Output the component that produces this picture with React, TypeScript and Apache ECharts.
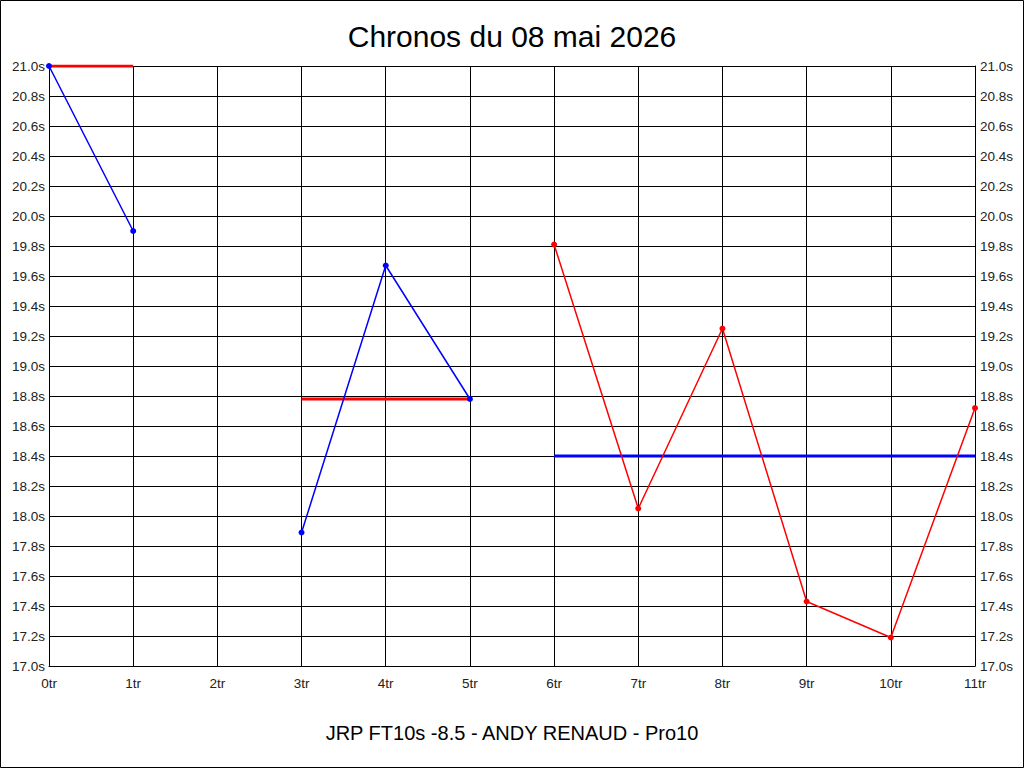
import React, { useEffect, useRef } from "react";
import * as echarts from "echarts";

const categories = ["0tr", "1tr", "2tr", "3tr", "4tr", "5tr", "6tr", "7tr", "8tr", "9tr", "10tr", "11tr"];
const blueValues = [21.0, 19.9, null, 17.89, 19.67, 18.78, null, null, null, null, null, null];
const redValues = [null, null, null, null, null, null, 19.81, 18.05, 19.25, 17.43, 17.19, 18.72];
const redAvgValues = [21.0, 21.0, null, 18.78, 18.78, 18.78, null, null, null, null, null, null];
const blueAvgValues = [null, null, null, null, null, null, 18.4, 18.4, 18.4, 18.4, 18.4, 18.4];

const titleText = "Chronos du 08 mai 2026";
const footerText = "JRP FT10s -8.5 - ANDY RENAUD - Pro10";

const FONT = "'Liberation Sans', Arial, sans-serif";

export default function App() {
  const ref = useRef<HTMLDivElement>(null);
  useEffect(() => {
    document.body.style.margin = "0";
    if (!ref.current) return;
    const chart = echarts.init(ref.current, null, { renderer: "svg" });
    const yAxisBase = {
      type: "value",
      min: 17,
      max: 21,
      interval: 0.2,
      axisLine: { show: true, lineStyle: { color: "#000", width: 1 } },
      axisTick: { show: false },
      splitLine: { show: true, lineStyle: { color: "#000", width: 1 } },
      axisLabel: {
        color: "#222",
        fontFamily: FONT,
        fontSize: 13.5,
        formatter: (v: number) => v.toFixed(1) + "s",
      },
    };
    chart.setOption({
      animation: false,
      backgroundColor: "#fff",
      title: {
        text: titleText,
        left: "center",
        top: 16,
        textStyle: { fontFamily: FONT, fontSize: 30, fontWeight: "normal", color: "#000" },
      },
      grid: { left: 49, right: 49, top: 66, bottom: 102, containLabel: false, show: false },
      xAxis: {
        type: "category",
        data: categories,
        boundaryGap: false,
        axisLine: { show: true, lineStyle: { color: "#000", width: 1 } },
        axisTick: { show: false },
        splitLine: { show: true, lineStyle: { color: "#000", width: 1 } },
        axisLabel: { color: "#222", fontFamily: FONT, fontSize: 13.5, margin: 10, interval: 0 },
      },
      yAxis: [
        { ...yAxisBase, position: "left", axisLabel: { ...yAxisBase.axisLabel, margin: 4 } },
        { ...yAxisBase, position: "right", axisLabel: { ...yAxisBase.axisLabel, margin: 5 } },
      ],
      graphic: [
        {
          type: "rect",
          shape: { x: 0.5, y: 0.5, width: 1023, height: 767 },
          style: { fill: "none", stroke: "#000", lineWidth: 1 },
          silent: true,
        },
        {
          type: "text",
          x: 512,
          y: 733,
          style: {
            text: footerText,
            fontFamily: FONT,
            fontSize: 20,
            fill: "#000",
            textAlign: "center",
            textVerticalAlign: "middle",
          },
        },
      ],
      series: [
        {
          type: "line",
          data: redAvgValues,
          symbol: "none",
          lineStyle: { color: "#ff0000", width: 3 },
          connectNulls: false,
          z: 3,
        },
        {
          type: "line",
          data: blueAvgValues,
          symbol: "none",
          lineStyle: { color: "#0000ff", width: 3 },
          connectNulls: false,
          z: 3,
        },
        {
          type: "line",
          data: blueValues,
          symbol: "circle",
          symbolSize: 6,
          itemStyle: { color: "#0000ff" },
          lineStyle: { color: "#0000ff", width: 1.5 },
          connectNulls: false,
          z: 4,
        },
        {
          type: "line",
          data: redValues,
          symbol: "circle",
          symbolSize: 6,
          itemStyle: { color: "#ff0000" },
          lineStyle: { color: "#ff0000", width: 1.5 },
          connectNulls: false,
          z: 4,
        },
      ],
    });
    return () => chart.dispose();
  }, []);
  return <div ref={ref} style={{ width: 1024, height: 768 }} />;
}
